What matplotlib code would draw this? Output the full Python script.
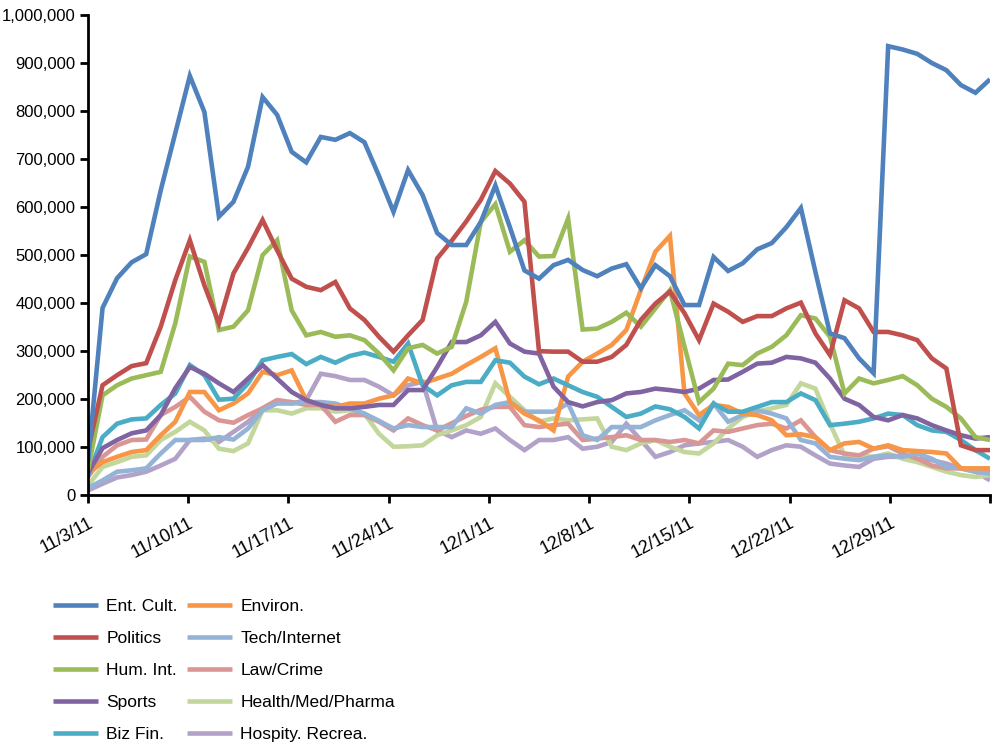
import numpy as np
import matplotlib
matplotlib.use('Agg')
import matplotlib.pyplot as plt
from matplotlib.ticker import FuncFormatter

# daily values, 11/3/11 .. 1/4/12 (thousands)
ent_cult = [70, 390, 452, 485, 502, 635, 754, 873, 798, 580, 611, 684, 829, 792, 715, 693, 746, 740, 754, 735,
            665, 590, 677, 625, 546, 521, 521, 569, 645, 558, 468, 451, 479, 490, 469, 456, 472, 481, 431, 479,
            456, 396, 396, 496, 467, 483, 512, 525, 558, 598, 465, 337, 327, 285, 254, 935, 928, 919, 900, 885,
            854, 838, 866]
politics = [94, 229, 250, 269, 275, 351, 448, 531, 437, 358, 462, 515, 573, 510, 451, 434, 427, 444, 389, 365,
            330, 299, 333, 365, 493, 530, 570, 615, 675, 649, 611, 300, 299, 299, 278, 278, 288, 313, 365, 399,
            424, 379, 323, 399, 382, 361, 373, 373, 389, 401, 337, 292, 406, 389, 340, 340, 333, 323, 285, 264,
            104, 94, 94]
hum_int = [52, 208, 229, 243, 250, 257, 358, 497, 486, 344, 351, 385, 500, 531, 385, 333, 340, 330, 333, 323,
           295, 260, 306, 313, 295, 309, 403, 569, 606, 507, 531, 497, 498, 576, 345, 347, 361, 380, 351, 389,
           427, 310, 194, 222, 274, 271, 295, 309, 333, 375, 368, 330, 212, 243, 233, 240, 248, 229, 201, 184,
           160, 121, 115]
sports = [46, 98, 115, 129, 135, 167, 223, 267, 253, 233, 215, 243, 271, 243, 215, 198, 188, 181, 181, 184,
          188, 188, 219, 219, 267, 319, 319, 333, 361, 316, 299, 295, 226, 194, 185, 194, 198, 212, 215, 222,
          219, 215, 222, 240, 241, 257, 274, 276, 288, 285, 276, 243, 201, 188, 163, 156, 167, 160, 146, 135,
          125, 118, 121]
biz_fin = [40, 121, 149, 158, 160, 188, 212, 271, 250, 199, 201, 233, 281, 288, 294, 273, 288, 276, 290, 297,
           288, 278, 316, 229, 208, 229, 236, 236, 281, 276, 247, 231, 243, 229, 215, 205, 184, 163, 170, 185,
           179, 163, 139, 191, 174, 174, 184, 194, 194, 212, 198, 146, 149, 153, 160, 170, 167, 146, 135, 132,
           115, 94, 76]
environ = [45, 69, 80, 90, 94, 125, 153, 215, 215, 177, 191, 212, 257, 250, 260, 198, 188, 184, 191, 191,
           201, 208, 243, 233, 243, 253, 271, 288, 306, 194, 170, 156, 135, 247, 278, 295, 313, 344, 427, 507,
           540, 212, 167, 188, 184, 170, 167, 156, 125, 127, 121, 94, 108, 111, 97, 104, 94, 92, 90, 87,
           56, 56, 56]
tech = [15, 31, 49, 52, 56, 87, 115, 115, 115, 121, 116, 139, 177, 191, 191, 194, 194, 191, 181, 170,
        155, 139, 146, 142, 142, 142, 181, 170, 188, 194, 174, 174, 174, 191, 125, 115, 142, 142, 142, 156,
        167, 177, 156, 191, 153, 167, 177, 170, 160, 115, 108, 80, 76, 73, 80, 83, 80, 87, 76, 59,
        56, 49, 45]
law_crime = [38, 80, 104, 115, 116, 167, 184, 205, 174, 156, 151, 167, 181, 198, 194, 188, 188, 153, 167, 167,
             153, 135, 160, 146, 135, 150, 165, 178, 184, 184, 146, 142, 146, 149, 115, 118, 121, 125, 115, 115,
             111, 115, 108, 135, 132, 139, 146, 149, 139, 156, 121, 94, 87, 83, 97, 102, 87, 76, 62, 56,
             56, 52, 52]
health = [20, 59, 69, 80, 83, 115, 132, 153, 135, 97, 92, 108, 177, 177, 170, 181, 181, 174, 177, 170,
          128, 101, 102, 104, 125, 135, 146, 163, 233, 205, 177, 153, 160, 156, 158, 160, 101, 94, 108, 115,
          101, 90, 87, 108, 139, 163, 174, 181, 188, 233, 222, 149, 83, 83, 80, 87, 76, 69, 59, 49,
          42, 38, 42]
hospity = [10, 24, 37, 42, 49, 62, 76, 115, 118, 111, 132, 153, 181, 198, 191, 198, 253, 248, 240, 240,
           226, 208, 229, 236, 135, 121, 135, 128, 139, 115, 94, 115, 115, 121, 97, 101, 111, 149, 115, 80,
           90, 104, 108, 111, 115, 101, 80, 94, 104, 101, 83, 66, 62, 59, 76, 80, 80, 76, 73, 66,
           56, 49, 31]

series = [
    ("Ent. Cult.", ent_cult, "#4F81BD"),
    ("Politics", politics, "#C0504D"),
    ("Hum. Int.", hum_int, "#9BBB59"),
    ("Sports", sports, "#8064A2"),
    ("Biz Fin.", biz_fin, "#4BACC6"),
    ("Environ.", environ, "#F79646"),
    ("Tech/Internet", tech, "#95B3D7"),
    ("Law/Crime", law_crime, "#D99694"),
    ("Health/Med/Pharma", health, "#C3D69B"),
    ("Hospity. Recrea.", hospity, "#B3A2C7"),
]

tick_labels = ["11/3/11", "11/10/11", "11/17/11", "11/24/11", "12/1/11",
               "12/8/11", "12/15/11", "12/22/11", "12/29/11", ""]

plt.rcParams['font.family'] = ['Liberation Sans', 'DejaVu Sans']

fig = plt.figure(figsize=(10, 7.47), dpi=100)
ax = fig.add_axes([0.088, 0.337, 0.902, 0.643])

n = len(ent_cult)
x = np.arange(n)
lines = []
# draw back to front so the big series sit on top
for name, vals, col in reversed(series):
    ln, = ax.plot(x, np.array(vals) * 1000, color=col, lw=3.3, label=name,
                  solid_joinstyle='miter', solid_capstyle='butt')
    lines.append(ln)
lines = lines[::-1]

ax.set_xlim(0, n - 1)
ax.set_ylim(0, 1000000)
ax.set_yticks(np.arange(0, 1000001, 100000))
ax.yaxis.set_major_formatter(FuncFormatter(lambda v, p: f"{int(v):,}"))
ax.set_xticks(np.linspace(0, n - 1, len(tick_labels)))
ax.set_xticklabels(tick_labels, rotation=28, ha='right', rotation_mode='anchor')

for s in ['top', 'right']:
    ax.spines[s].set_visible(False)
for s in ['left', 'bottom']:
    ax.spines[s].set_linewidth(2)
ax.tick_params(direction='out', length=6, width=2, labelsize=12)
ax.tick_params(axis='y', pad=3)
ax.tick_params(axis='x', pad=8, labelsize=13)

fig.legend(handles=lines, labels=[s[0] for s in series], ncol=2,
           loc='upper left', bbox_to_anchor=(0.037, 0.219), frameon=False,
           fontsize=12.5, handlelength=2.6, columnspacing=0.5,
           labelspacing=0.97, handletextpad=0.5)

fig.savefig('out.png', dpi=100)
